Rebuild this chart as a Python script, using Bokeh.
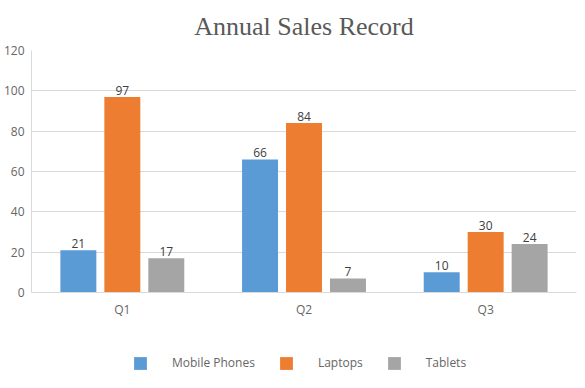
from bokeh.plotting import figure
from bokeh.models import ColumnDataSource, LabelSet, Legend, LegendItem, FactorRange, Range1d, FixedTicker
from bokeh.transform import dodge
from bokeh.core.properties import value
from bokeh.embed import file_html
from bokeh.resources import INLINE

quarters = ["Q1", "Q2", "Q3"]
mobile_phones = [21, 66, 10]
laptops = [97, 84, 30]
tablets = [17, 7, 24]
series_names = ["Mobile Phones", "Laptops", "Tablets"]
colors = ["#5B9BD5", "#ED7D31", "#A5A5A5"]
y_ticks = [0, 20, 40, 60, 80, 100, 120]

src = ColumnDataSource(dict(q=quarters, m=mobile_phones, l=laptops, t=tablets))

p = figure(x_range=FactorRange(*quarters), y_range=Range1d(-41.65, 120),
           width=577, height=380, output_backend="svg", toolbar_location=None,
           min_border_left=31, min_border_right=1, min_border_top=50, min_border_bottom=4)

p.title.text = "Annual Sales Record"
p.title.align = "center"
p.title.text_font = "Liberation Serif"
p.title.text_font_size = "26px"
p.title.text_font_style = "normal"
p.title.text_color = "#595959"
p.title.standoff = 19

width = 0.198
offsets = [-0.242, 0.0, 0.242]
cols = ["m", "l", "t"]
items = []
for col, off, c, name in zip(cols, offsets, colors, series_names):
    r = p.vbar(x=dodge("q", off, range=p.x_range), top=col, width=width, source=src,
               fill_color=c, line_color=None)
    items.append(LegendItem(label=name, renderers=[r]))
    lbl = LabelSet(x=dodge("q", off, range=p.x_range), y=col, text=col, source=src,
                   text_align="center", y_offset=2, text_font=value("Open Sans"),
                   text_font_size="12px", text_color="#404040")
    p.add_layout(lbl)

legend = Legend(items=items, orientation="horizontal", location=(101, 5),
                glyph_width=16, glyph_height=16, label_standoff=24, spacing=23,
                label_text_font="Open Sans", label_text_font_size="12px",
                label_text_color="#666666", border_line_color=None,
                background_fill_alpha=0, padding=0, margin=0)
p.add_layout(legend)

p.xgrid.grid_line_color = None
p.ygrid.grid_line_color = "#D9D9D9"
p.yaxis.ticker = FixedTicker(ticks=y_ticks)
p.yaxis.bounds = (0, 120)
p.yaxis.axis_line_color = "#D9D9D9"
p.yaxis.major_tick_line_color = None
p.yaxis.major_tick_out = 0
p.yaxis.minor_tick_line_color = None
p.yaxis.major_label_text_font = "Open Sans"
p.yaxis.major_label_text_font_size = "12px"
p.yaxis.major_label_text_color = "#666666"
p.yaxis.major_label_standoff = 7
p.xaxis.fixed_location = 0
p.xaxis.axis_line_color = "#D9D9D9"
p.xaxis.major_tick_line_color = None
p.xaxis.major_tick_out = 0
p.xaxis.major_label_text_font = "Open Sans"
p.xaxis.major_label_text_font_size = "12px"
p.xaxis.major_label_text_color = "#666666"
p.xaxis.major_label_standoff = 8
p.outline_line_color = None
p.x_range.range_padding = 0
p.x_range.group_padding = 0

open("out.html", "w").write(file_html(p, INLINE))
